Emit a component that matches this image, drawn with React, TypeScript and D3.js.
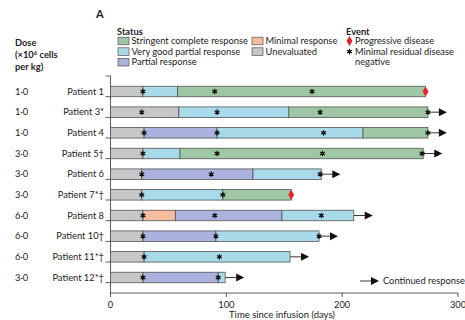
import React from "react";
import * as d3 from "d3";

const patients = ["Patient 1", "Patient 3*", "Patient 4", "Patient 5†", "Patient 6", "Patient 7*†", "Patient 8", "Patient 10†", "Patient 11*†", "Patient 12*†"];
const doses = ["1·0", "1·0", "1·0", "3·0", "3·0", "3·0", "6·0", "6·0", "6·0", "3·0"];

// status segments: [status, end day]
const segments: [string, number][][] = [
  [["UE", 28], ["VGPR", 58], ["SCR", 272]],
  [["UE", 59], ["VGPR", 154], ["SCR", 274]],
  [["UE", 29], ["PR", 92], ["VGPR", 218], ["SCR", 274]],
  [["UE", 28], ["VGPR", 60], ["SCR", 270]],
  [["UE", 27], ["PR", 123], ["VGPR", 182]],
  [["UE", 27], ["VGPR", 97], ["SCR", 156]],
  [["UE", 28], ["MR", 56], ["PR", 148], ["VGPR", 210]],
  [["UE", 28], ["PR", 91], ["VGPR", 180]],
  [["UE", 29], ["VGPR", 155]],
  [["UE", 28], ["PR", 93], ["VGPR", 99]],
];
const mrdDays: number[][] = [
  [28, 90, 174],
  [27, 92, 181, 274],
  [29, 92, 184, 274],
  [28, 92, 183, 269],
  [27, 87, 181],
  [27, 97],
  [28, 90, 182],
  [28, 91, 180],
  [29, 94],
  [28, 93],
];
const progression: (number | null)[] = [272, null, null, null, null, 156, null, null, null, null];
const continued: boolean[] = [false, true, true, true, true, false, true, true, true, true];
const xTicks = [0, 100, 200, 300];

const statusColors: Record<string, string> = {
  SCR: "#9fc7a5",
  VGPR: "#a9dae9",
  PR: "#aab2dd",
  MR: "#f6bc9f",
  UE: "#c6c7c9",
};
const legendItems: [string, string, number, number][] = [
  ["SCR", "Stringent complete response", 0, 0],
  ["VGPR", "Very good partial response", 0, 1],
  ["PR", "Partial response", 0, 2],
  ["MR", "Minimal response", 1, 0],
  ["UE", "Unevaluated", 1, 1],
];

const FONT = "Lato, 'Open Sans', sans-serif";
const FS = 9.3;

export default function App() {
  const x = d3.scaleLinear().domain([0, 300]).range([110.5, 458]);
  const y = d3.scaleBand().domain(patients).range([76, 293]).padding(0.5);
  const bh = 10.5;
  const star = d3.symbol().type(d3.symbolAsterisk).size(22)()!;
  const diamond = d3.symbol().type(d3.symbolDiamond).size(30)()!;
  const tri = "M0,-4L8,0L0,4Z";
  const step = y.step();

  return (
    <svg width={465} height={320} style={{ position: "absolute", left: 0, top: 0, fontFamily: FONT }}>
      <text x={96} y={18} fontSize={11} fontWeight="bold" fill="#222">A</text>
      {/* legend status */}
      <text x={117} y={34.5} fontSize={FS} fontWeight="bold" fill="#222">Status</text>
      {legendItems.map(([k, label, col, row]) => {
        const lx = col === 0 ? 118 : 252;
        const ly = 41 + row * 10.6;
        return (
          <g key={k}>
            <rect x={lx} y={ly - 3.8} width={11} height={7.6} fill={statusColors[k]} stroke="#555" strokeWidth={0.7} />
            <text x={lx + 13.5} y={ly + 3.2} fontSize={FS} fill="#222">{label}</text>
          </g>
        );
      })}
      <text x={346} y={34.5} fontSize={FS} fontWeight="bold" fill="#222">Event</text>
      <path d={diamond} transform="translate(349.5,41)" fill="#e8202a" />
      <text x={355} y={44.2} fontSize={FS} fill="#222">Progressive disease</text>
      <g transform="translate(349.5,51.6)">
        <path d={star} stroke="#111" strokeWidth={1.1} fill="none" />
        <circle r={1.5} fill="#111" />
      </g>
      <text x={355} y={54.8} fontSize={FS} fill="#222">Minimal residual disease</text>
      <text x={355} y={65.4} fontSize={FS} fill="#222">negative</text>

      {/* dose header */}
      <text x={15} y={46} fontSize={FS} fontWeight="bold" fill="#222">Dose</text>
      <text x={15} y={58} fontSize={FS} fontWeight="bold" fill="#222">(×10<tspan dy={-3.5} fontSize={6}>6</tspan><tspan dy={3.5}> cells</tspan></text>
      <text x={15} y={70} fontSize={FS} fontWeight="bold" fill="#222">per kg)</text>

      {/* y axis */}
      <line x1={x(0)} x2={x(0)} y1={76} y2={293} stroke="#333" strokeWidth={0.8} />
      {d3.range(patients.length + 1).map((i) => (
        <line key={i} x1={x(0) - 5} x2={x(0)} y1={76 + i * step} y2={76 + i * step} stroke="#333" strokeWidth={0.8} />
      ))}
      {patients.map((p, i) => {
        const cy = y(p)! + y.bandwidth() / 2;
        return (
          <g key={p}>
            <text x={15} y={cy + 3.2} fontSize={FS} fill="#222">{doses[i]}</text>
            <text x={104} y={cy + 3.2} fontSize={FS} fill="#222" textAnchor="end">{p}</text>
          </g>
        );
      })}

      {/* x axis */}
      <line x1={x(0)} x2={x(300)} y1={293} y2={293} stroke="#333" strokeWidth={0.8} />
      {xTicks.map((t) => (
        <g key={t}>
          <line x1={x(t)} x2={x(t)} y1={293} y2={297} stroke="#333" strokeWidth={0.8} />
          <text x={x(t)} y={307.5} fontSize={FS} textAnchor="middle" fill="#222">{t}</text>
        </g>
      ))}
      <text x={x(148)} y={318} fontSize={9.5} textAnchor="middle" fill="#222">Time since infusion (days)</text>

      {/* bars */}
      {patients.map((p, i) => {
        const cy = y(p)! + y.bandwidth() / 2;
        const segs = segments[i];
        const end = segs[segs.length - 1][1];
        return (
          <g key={p}>
            {continued[i] && (
              <g>
                <line x1={x(end)} x2={x(end) + 12} y1={cy} y2={cy} stroke="#222" strokeWidth={0.9} />
                <path d={tri} transform={`translate(${x(end) + 11},${cy})`} fill="#111" />
              </g>
            )}
            {segs.map(([s, e], j) => {
              const start = j === 0 ? 0 : segs[j - 1][1];
              return (
                <rect key={j} x={x(start)} y={cy - bh / 2} width={x(e) - x(start)} height={bh}
                  fill={statusColors[s]} stroke="#555" strokeWidth={0.8} />
              );
            })}
            {mrdDays[i].map((d, k) => (
              <g key={k} transform={`translate(${x(d)},${cy})`}>
                <path d={star} stroke="#111" strokeWidth={1.1} fill="none" />
                <circle r={1.5} fill="#111" />
              </g>
            ))}
            {progression[i] != null && (
              <path d={diamond} transform={`translate(${x(progression[i]!)},${cy})`} fill="#e8202a" />
            )}
          </g>
        );
      })}

      {/* continued response legend */}
      <line x1={360} x2={372} y1={281} y2={281} stroke="#222" strokeWidth={0.9} />
      <path d={tri} transform="translate(371,281)" fill="#111" />
      <text x={383} y={284.2} fontSize={FS} fill="#222">Continued response</text>
    </svg>
  );
}
